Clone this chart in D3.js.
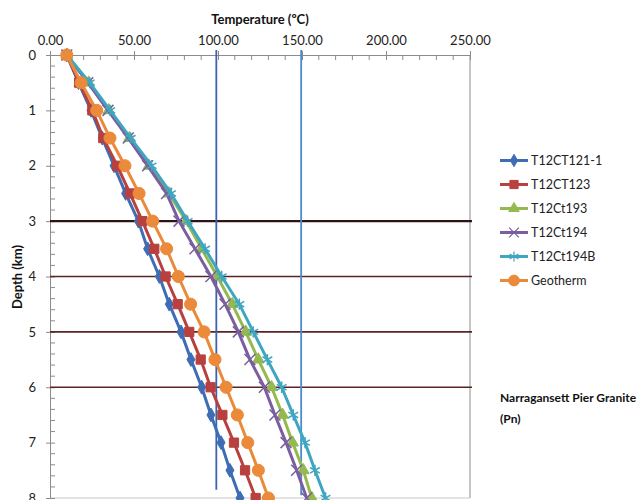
<!DOCTYPE html>
<html>
<head>
<meta charset="utf-8">
<script src="https://cdn.jsdelivr.net/npm/d3@7"></script>
<style>
  body { margin: 0; background: #fff; }
  svg { display: block; font-family: "Lato", "Open Sans", sans-serif; }
</style>
</head>
<body>
<svg id="chart" width="644" height="500"></svg>
<script>
// ---- data ----
const depths = [0, 0.5, 1, 1.5, 2, 2.5, 3, 3.5, 4, 4.5, 5, 5.5, 6, 6.5, 7, 7.5, 8];
const seriesNames = ["T12CT121-1", "T12CT123", "T12Ct193", "T12Ct194", "T12Ct194B", "Geotherm"];
const t121 = [10, 17, 24.4, 31.1, 38.1, 45, 52.6, 58.1, 65.1, 71, 78, 83.9, 90.3, 95.8, 101.8, 107.1, 113.1];
const t123 = [10, 17.3, 25.2, 31.7, 40, 47.6, 55, 62.1, 68.8, 76, 82.9, 89.7, 95.6, 102.6, 109.5, 116.1, 122.4];
const t193 = [10, 23, 35, 47.3, 58.9, 70.8, 81, 90.3, 99.6, 108.5, 116.5, 124, 131.9, 138.5, 144.4, 150.8, 155.8];
const t194 = [10, 22.5, 34.5, 46.6, 58.1, 69.4, 76.8, 86.3, 95.8, 104.2, 112.1, 119, 127.6, 133.9, 140.5, 146.8, 152.8];
const t194B = [10, 23.6, 35.8, 48, 60.5, 72, 81.9, 92.3, 102.2, 112.7, 121, 129.4, 137.9, 144.8, 151.8, 157.7, 164];
const geotherm = [10, 18.5, 27.8, 35.7, 44.6, 53, 61.1, 69.4, 76.4, 83.7, 91.7, 98.2, 104.8, 111.5, 117.7, 124, 130];
const xTicks = [0, 50, 100, 150, 200, 250];
const yTicks = [0, 1, 2, 3, 4, 5, 6, 7, 8];
const layerDepths = [3, 4, 5, 6];               // horizontal marker lines (km)
const refTemps = [99, 149.5];                   // vertical reference lines (°C)
const refEnds = [7.85, 7.95];                   // their lower end (km)
const refTop = -0.09;

const colors = ["#3e6db5", "#b8403e", "#94b94f", "#7a5ea0", "#3fa6c1", "#ea8a3a"];
const symbols = [d3.symbolDiamond, d3.symbolSquare, d3.symbolTriangle, d3.symbolX, d3.symbolAsterisk, d3.symbolCircle];
const symSizes = [55, 85, 60, 80, 90, 115];
const allSeries = [t121, t123, t193, t194, t194B, geotherm];

// ---- layout ----
const svg = d3.select("#chart");
const x = d3.scaleLinear().domain([0, 250]).range([50, 470]);
const y = d3.scaleLinear().domain([0, 8]).range([55, 498]);
const axisColor = "#8c8c8c";

// right border & bottom line of plot area
svg.append("line").attr("x1", x(250)).attr("x2", x(250)).attr("y1", y(0)).attr("y2", y(8))
  .attr("stroke", axisColor).attr("stroke-width", 1);
svg.append("line").attr("x1", x(0)).attr("x2", x(250)).attr("y1", y(8)).attr("y2", y(8))
  .attr("stroke", "#c8c8c8").attr("stroke-width", 1);

// top axis
const xAxis = svg.append("g").attr("transform", `translate(0,${y(0)})`)
  .call(d3.axisTop(x).tickValues(xTicks).tickFormat(d3.format(".2f")).tickSizeInner(4).tickSizeOuter(0).tickPadding(6));
xAxis.select(".domain").attr("stroke", axisColor);
xAxis.selectAll(".tick line").attr("stroke", axisColor).attr("y2", 5).attr("y1", -4);
xAxis.selectAll(".tick text").attr("font-size", 13).attr("fill", "#222").attr("font-family", "Lato, sans-serif");
const xMinor = d3.range(0, 251, 10).filter(v => v % 50 !== 0);
svg.append("g").selectAll("line").data(xMinor).join("line")
  .attr("x1", d => x(d)).attr("x2", d => x(d)).attr("y1", y(0)).attr("y2", y(0) + 5)
  .attr("stroke", axisColor);

// left axis
const yAxis = svg.append("g").attr("transform", `translate(${x(0)},0)`)
  .call(d3.axisLeft(y).tickValues(yTicks).tickFormat(d3.format("d")).tickSizeInner(4).tickSizeOuter(0).tickPadding(10));
yAxis.select(".domain").attr("stroke", axisColor);
yAxis.selectAll(".tick line").attr("stroke", axisColor).attr("x1", 5).attr("x2", -4);
yAxis.selectAll(".tick text").attr("font-size", 13).attr("fill", "#222").attr("font-family", "Lato, sans-serif");
const yMinor = d3.range(0, 8.01, 0.2).filter(v => Math.abs(v - Math.round(v)) > 0.01);
svg.append("g").selectAll("line").data(yMinor).join("line")
  .attr("x1", x(0)).attr("x2", x(0) + 5).attr("y1", d => y(d)).attr("y2", d => y(d))
  .attr("stroke", axisColor);

// axis titles
svg.append("text").attr("x", 260).attr("y", 24).attr("text-anchor", "middle")
  .attr("font-size", 13).attr("font-weight", "bold").attr("fill", "#111").text("Temperature (ºC)");
svg.append("text").attr("transform", "translate(22,277) rotate(-90)").attr("text-anchor", "middle")
  .attr("font-size", 13).attr("font-weight", "bold").attr("fill", "#111").text("Depth (km)");

// horizontal layer lines
svg.append("g").selectAll("line").data(layerDepths).join("line")
  .attr("x1", x(0)).attr("x2", x(250) + 2).attr("y1", d => y(d)).attr("y2", d => y(d))
  .attr("stroke", (d, i) => i === 0 ? "#2e1414" : "#5a2424").attr("stroke-width", (d, i) => i === 0 ? 2.2 : 1.6);

// vertical reference lines
svg.append("g").selectAll("line").data(refTemps).join("line")
  .attr("x1", d => x(d)).attr("x2", d => x(d)).attr("y1", y(refTop)).attr("y2", (d, i) => y(refEnds[i]))
  .attr("stroke", (d, i) => i === 0 ? "#3b63b0" : "#4a8ccc").attr("stroke-width", 1.8);

// series
const line = d3.line().x(d => x(d[0])).y(d => y(d[1]));
allSeries.forEach((vals, i) => {
  const pts = vals.map((v, j) => [v, depths[j]]);
  const g = svg.append("g");
  g.append("path").attr("d", line(pts)).attr("fill", "none")
    .attr("stroke", colors[i]).attr("stroke-width", 3).attr("stroke-linejoin", "round");
  const sym = d3.symbol().type(symbols[i]).size(symSizes[i]);
  const stroked = (i === 3 || i === 4);
  g.selectAll("path.m").data(pts).join("path").attr("class", "m")
    .attr("d", sym).attr("transform", d => `translate(${x(d[0])},${y(d[1])})`)
    .attr("fill", stroked ? "none" : colors[i])
    .attr("stroke", colors[i]).attr("stroke-width", stroked ? 1.5 : 1);
});

// legend
const lg = svg.append("g");
seriesNames.forEach((name, i) => {
  const ly = 160.5 + i * 24;
  lg.append("line").attr("x1", 500).attr("x2", 528).attr("y1", ly).attr("y2", ly)
    .attr("stroke", colors[i]).attr("stroke-width", 3);
  const stroked = (i === 3 || i === 4);
  lg.append("path").attr("d", d3.symbol().type(symbols[i]).size(symSizes[i] * 0.8))
    .attr("transform", `translate(514,${ly})`)
    .attr("fill", stroked ? "none" : colors[i]).attr("stroke", colors[i]).attr("stroke-width", stroked ? 1.2 : 1);
  lg.append("text").attr("x", 531).attr("y", ly + 4.5).attr("font-size", 12.5).attr("fill", "#222").text(name);
});

// annotation
svg.append("text").attr("x", 500).attr("y", 402).attr("font-size", 12).attr("font-weight", "bold")
  .attr("fill", "#111").text("Narragansett Pier Granite");
svg.append("text").attr("x", 500).attr("y", 423).attr("font-size", 12).attr("font-weight", "bold")
  .attr("fill", "#111").text("(Pn)");
</script>
</body>
</html>
